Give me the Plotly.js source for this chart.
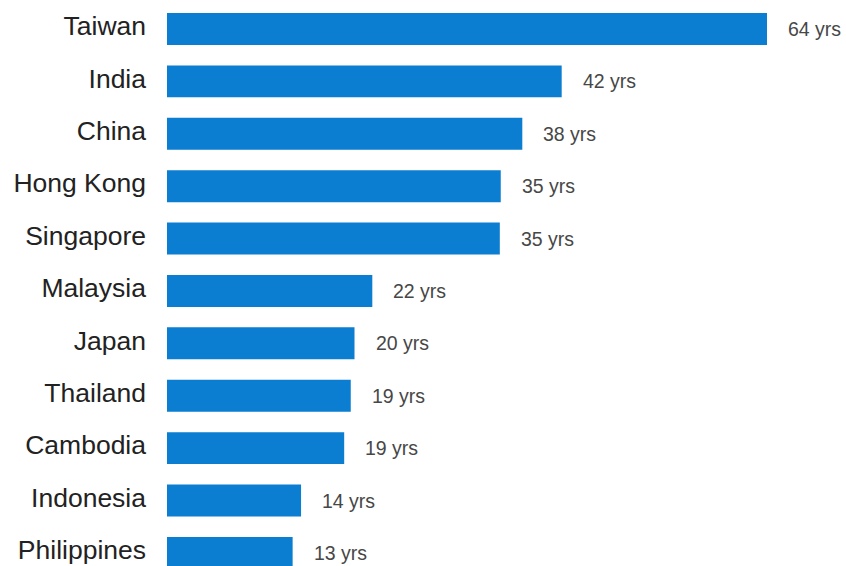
<!DOCTYPE html>
<html>
<head>
<meta charset="utf-8">
<script src="https://cdn.plot.ly/plotly-3.0.1.min.js"></script>
<style>html,body{margin:0;padding:0;background:#fff;}#chart{width:846px;height:566px;}</style>
</head>
<body>
<div id="chart"></div>
<script>
const countries = ["Taiwan","India","China","Hong Kong","Singapore","Malaysia","Japan","Thailand","Cambodia","Indonesia","Philippines"];
const years = [64, 42.1, 37.9, 35.6, 35.5, 21.9, 20.0, 19.6, 18.9, 14.3, 13.4];
const valueLabels = ["64 yrs","42 yrs","38 yrs","35 yrs","35 yrs","22 yrs","20 yrs","19 yrs","19 yrs","14 yrs","13 yrs"];

const trace = {
  type: "bar",
  orientation: "h",
  x: years,
  y: countries,
  marker: {color: "#0b7ed1"},
  hoverinfo: "none"
};

const annotations = countries.map((c, i) => ({
  x: years[i], y: c, xref: "x", yref: "y",
  text: valueLabels[i], showarrow: false,
  xanchor: "left", xshift: 19,
  font: {family: "Liberation Sans, Arial, sans-serif", size: 19.5, color: "#474747"}
}));

const layout = {
  width: 846, height: 566,
  margin: {l: 167, r: 4, t: 0, b: 0},
  paper_bgcolor: "#fff", plot_bgcolor: "#fff",
  bargap: 0.39,
  showlegend: false,
  xaxis: {range: [0, 72], visible: false, fixedrange: true},
  yaxis: {
    type: "category",
    range: [10.25, -0.553],
    showgrid: false, zeroline: false, showline: false,
    ticks: "", ticklabelstandoff: 20, ticklabelshift: 3,
    tickfont: {family: "Liberation Sans, Arial, sans-serif", size: 26.5, color: "#222"}
  },
  annotations: annotations
};

Plotly.newPlot("chart", [trace], layout, {displayModeBar: false, staticPlot: true});
</script>
</body>
</html>
